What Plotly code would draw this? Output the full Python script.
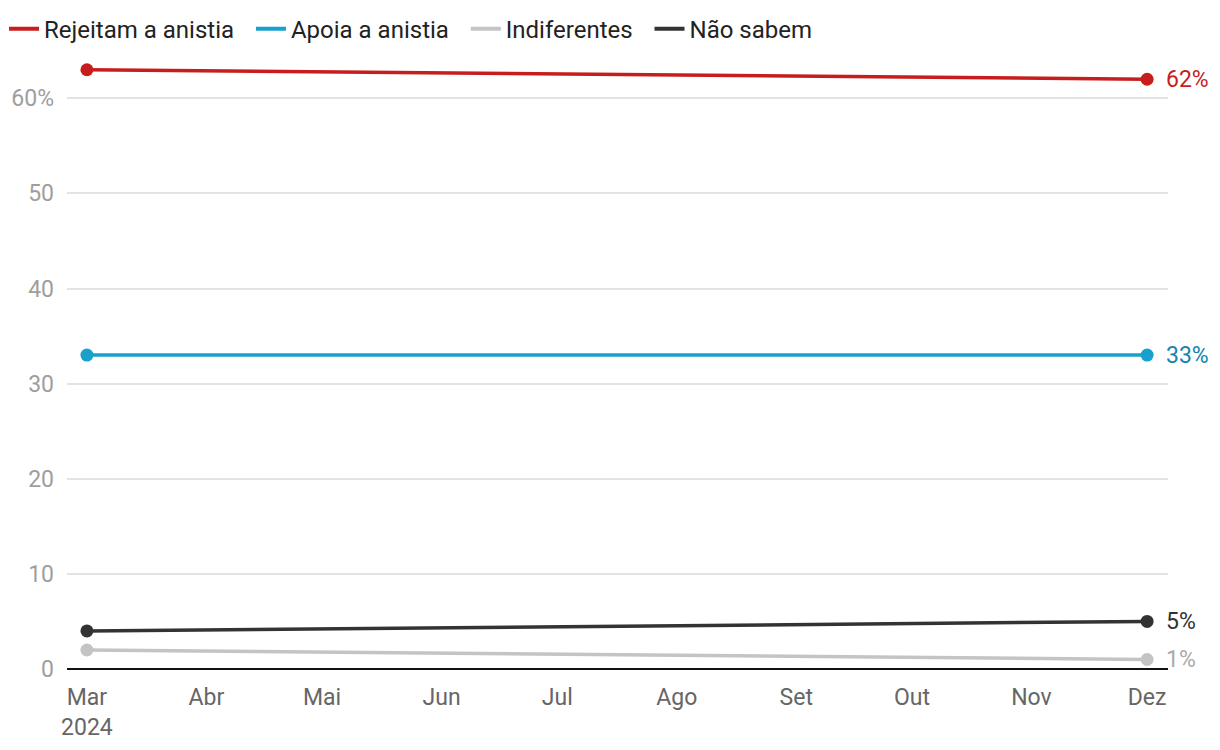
import plotly.graph_objects as go

dates = ["2024-03-01", "2024-12-01"]
series_names = ["Rejeitam a anistia", "Apoia a anistia", "Indiferentes", "Não sabem"]
rejeitam = [63, 62]
apoia = [33, 33]
indiferentes = [2, 1]
nao_sabem = [4, 5]
colors = ["#c71e1d", "#18a1cd", "#c4c4c4", "#333333"]
label_colors = ["#c71e1d", "#1584ad", "#aaaaaa", "#333333"]
y_ticks = [0, 10, 20, 30, 40, 50, 60]
y_tick_text = ["0", "10", "20", "30", "40", "50", "60%"]
x_ticks = ["2024-03-01", "2024-04-01", "2024-05-01", "2024-06-01", "2024-07-01",
           "2024-08-01", "2024-09-01", "2024-10-01", "2024-11-01", "2024-12-01"]
x_tick_text = ["Mar<br>2024", "Abr", "Mai", "Jun", "Jul", "Ago", "Set", "Out", "Nov", "Dez"]

fig = go.Figure()
all_vals = [rejeitam, apoia, indiferentes, nao_sabem]
for name, vals, c in zip(series_names, all_vals, colors):
    fig.add_trace(go.Scatter(
        x=dates, y=vals, name=name, mode="lines+markers",
        line=dict(color=c, width=3.5),
        marker=dict(color=c, size=13),
        cliponaxis=False, showlegend=False,
    ))
    # legend-only entry (line symbol only)
    fig.add_trace(go.Scatter(
        x=[None], y=[None], name=name + "\u00a0\u00a0", mode="lines",
        line=dict(color=c, width=4), showlegend=True,
    ))

for vals, c in zip(all_vals, label_colors):
    fig.add_annotation(
        x=dates[-1], y=vals[-1], text=f"{vals[-1]}%", showarrow=False,
        xanchor="left", yanchor="middle", xshift=17,
        font=dict(family="Roboto", size=23, color=c),
    )

fig.update_layout(
    width=1220, height=750,
    paper_bgcolor="white", plot_bgcolor="white",
    margin=dict(l=67, r=52, t=65, b=81),
    font=dict(family="Roboto", size=23, color="#666666"),
    showlegend=True,
    legend=dict(
        orientation="h", xref="container", yref="container",
        x=0.0033, y=0.991, xanchor="left", yanchor="top",
        font=dict(size=24, color="#222222"),
        itemwidth=30, tracegroupgap=0,
    ),
    xaxis=dict(
        type="date", range=["2024-02-24 20:00", "2024-12-06 10:00"],
        tickvals=x_ticks, ticktext=x_tick_text, showgrid=False,
        zeroline=False, showline=False, ticks="", ticklabelstandoff=12,
        tickfont=dict(size=23, color="#666666"), automargin=False,
    ),
    yaxis=dict(
        range=[0, 63.5], tickvals=y_ticks, ticktext=y_tick_text,
        showgrid=True, gridcolor="#e3e3e3", gridwidth=1.5,
        zeroline=True, zerolinecolor="#111111", zerolinewidth=2,
        showline=False, ticks="", ticklabelstandoff=12,
        tickfont=dict(size=23, color="#9e9e9e"), automargin=False,
    ),
)

fig.write_html("out.html")
